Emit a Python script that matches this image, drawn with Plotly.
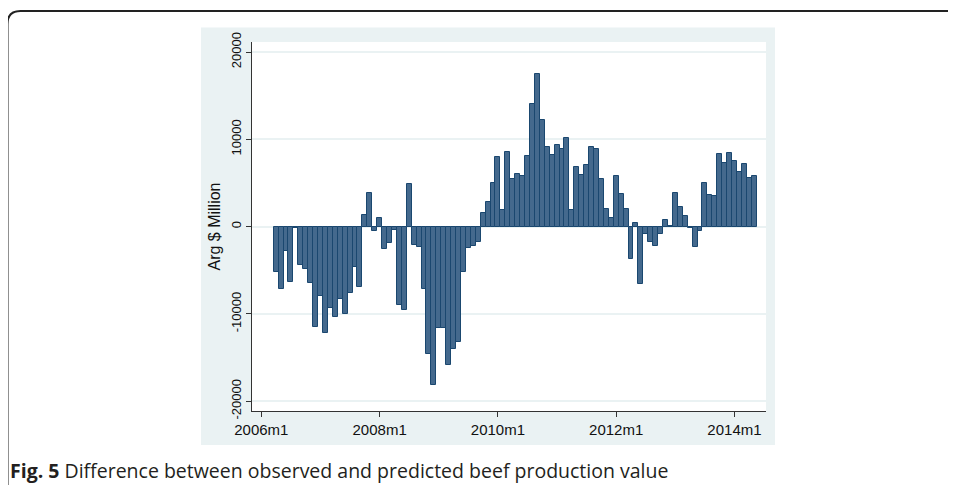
import plotly.graph_objects as go

# ---- data ----
start_year, start_month = 2006, 4   # first bar: 2006m4, last bar: 2014m5
diff_values = [
    -5200, -7100, -2800, -6300, -200, -4400, -4850, -6400, -11450,          # 2006m4-2006m12
    -7900, -12200, -9300, -10400, -8250, -9950, -7550, -4600, -6900, 1350, 3800, -500,   # 2007
    1000, -2600, -1900, -400, -8950, -9500, 4850, -2150, -2300, -7150, -14550, -18100,   # 2008
    -11550, -11550, -15850, -14000, -13250, -5150, -2450, -2200, -1800, 1550, 2800, 5050, # 2009
    7950, 1900, 8600, 5450, 6050, 5800, 8150, 14100, 17450, 12200, 9150, 8250,         # 2010
    9400, 8900, 10100, 1950, 6800, 5950, 7100, 9100, 8950, 5500, 2050, 950,            # 2011
    5850, 3700, 2050, -3650, 400, -6550, -850, -1750, -2200, -850, 750, 100,           # 2012
    3850, 2200, 1250, -100, -2350, -500, 4950, 3650, 3500, 8350, 7300, 8450,           # 2013
    7500, 6250, 7150, 5550, 5850,                                                      # 2014m1-m5
]
tick_labels = ["2006m1", "2008m1", "2010m1", "2012m1", "2014m1"]
y_ticks = [-20000, -10000, 0, 10000, 20000]
y_title = "Arg $ Million"
caption_bold = "Fig. 5"
caption_text = "Difference between observed and predicted beef production value"

# month index (0 = 2006m1)
start_idx = (start_year - 2006) * 12 + (start_month - 1)
x_idx = [start_idx + i for i in range(len(diff_values))]
month_labels = [f"{2006 + k // 12}m{k % 12 + 1}" for k in x_idx]
tick_vals = [(int(t[:4]) - 2006) * 12 + int(t[5:]) - 1 for t in tick_labels]

# ---- layout geometry (reference pixels; page body has an 8px margin) ----
OFF = 8
W, H = 956 - OFF, 485 - OFF
L, R, T, B = 252 - OFF, 766 - OFF, 42 - OFF, 411 - OFF
pw, ph = R - L, B - T


def px(x):
    return (x - OFF - L) / pw


def py(y):
    return (B - (y - OFF)) / ph


fig = go.Figure()
fig.add_trace(go.Bar(
    x=x_idx, y=diff_values, width=1.0,
    marker=dict(color="#44698d", line=dict(color="#1a476f", width=1)),
    customdata=month_labels,
    hovertemplate="%{customdata}: %{y}<extra></extra>",
))

shapes = [
    # light outer graph region
    dict(type="rect", xref="paper", yref="paper", layer="below",
         x0=px(201), x1=px(775), y0=py(445), y1=py(27.5),
         fillcolor="#eaf2f3", line=dict(width=0)),
    # white plot region
    dict(type="rect", xref="paper", yref="paper", layer="below",
         x0=0, x1=1, y0=0, y1=1, fillcolor="white", line=dict(width=0)),
    # journal figure frame (rounded corner at top-left, open right/bottom)
    dict(type="path", xref="paper", yref="paper",
         path=(f"M {px(7.5)} {py(500)} L {px(7.5)} {py(24)} "
               f"Q {px(7.5)} {py(11)} {px(20.5)} {py(11)} L {px(970)} {py(11)}"),
         line=dict(color="#222222", width=2)),
]

fig.update_layout(
    width=W, height=H, autosize=False,
    margin=dict(l=L, r=W - R, t=T, b=H - B, pad=0),
    paper_bgcolor="white", plot_bgcolor="white",
    showlegend=False, bargap=0,
    shapes=shapes,
    font=dict(family="Liberation Sans, Arial, sans-serif", color="#111111"),
    annotations=[dict(
        xref="paper", yref="paper", x=px(8), y=py(470), xanchor="left", yanchor="middle",
        text=f"<b>{caption_bold}</b> {caption_text}", showarrow=False,
        font=dict(family="Open Sans, Noto Sans, sans-serif", size=19.5, color="#231f20"),
    )],
)

fig.update_xaxes(
    range=[-1.9, 102.4], tickmode="array", tickvals=tick_vals, ticktext=tick_labels,
    showgrid=False, zeroline=False, showline=True, linecolor="#333333", linewidth=1,
    ticks="outside", ticklen=5, tickcolor="#333333",
    tickfont=dict(size=15, family="Liberation Sans, Arial, sans-serif", color="#111111"),
)
fig.update_yaxes(
    range=[-21110, 21150], tickmode="array", tickvals=y_ticks,
    ticktext=[str(v) for v in y_ticks], tickangle=-90,
    showgrid=True, gridcolor="#eaf2f3", gridwidth=1.5, zeroline=False,
    showline=True, linecolor="#333333", linewidth=1,
    ticks="outside", ticklen=5, tickcolor="#333333",
    tickfont=dict(size=13, family="Liberation Sans, Arial, sans-serif", color="#111111"),
    title=dict(text=y_title, standoff=4,
               font=dict(size=16, family="Liberation Sans, Arial, sans-serif", color="#111111")),
)

fig.write_html("out.html")
